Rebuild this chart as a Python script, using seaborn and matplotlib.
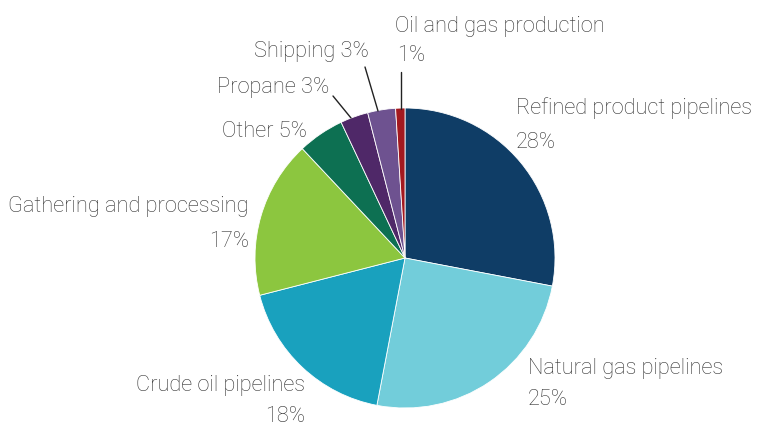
import matplotlib.pyplot as plt
import seaborn as sns

# Slice data (clockwise from 12 o'clock)
segmentos = ['Refined product pipelines', 'Natural gas pipelines', 'Crude oil pipelines',
             'Gathering and processing', 'Other', 'Propane', 'Shipping', 'Oil and gas production']
porcentajes = [28, 25, 18, 17, 5, 3, 3, 1]
colores = ['#0f3d66', '#72cdda', '#19a1be', '#8cc63f', '#0d7052', '#4f2868', '#6e5290', '#a3191f']

sns.set_style('white')
plt.rcParams['font.family'] = ['Roboto', 'DejaVu Sans']

fig = plt.figure(figsize=(7.57, 4.28), dpi=100)
ax = fig.add_axes([0, 0, 1, 1])
H = 428

ax.pie(porcentajes, colors=colores, startangle=90, counterclock=False,
       center=(405, H - 258), radius=150,
       wedgeprops={'edgecolor': 'white', 'linewidth': 0.6})
ax.set_xlim(0, 757)
ax.set_ylim(0, H)
ax.set_aspect('equal')
ax.axis('off')

gris = '#333333'
fs = 15.7


def texto(x, y, s, ha='left'):
    # y = baseline in pixels from the top
    ax.text(x, H - y, s, ha=ha, va='baseline', fontsize=fs, color=gris,
            fontweight='light')


texto(516, 114, segmentos[0]); texto(516, 148, f'{porcentajes[0]}%')
texto(528, 374, segmentos[1]); texto(528, 405, f'{porcentajes[1]}%')
texto(305, 391, segmentos[2], 'right'); texto(305, 422, f'{porcentajes[2]}%', 'right')
texto(249, 212, segmentos[3], 'right'); texto(249, 247, f'{porcentajes[3]}%', 'right')
texto(222, 137, f'{segmentos[4]} {porcentajes[4]}%')
texto(217, 93, f'{segmentos[5]} {porcentajes[5]}%')
texto(254, 57, f'{segmentos[6]} {porcentajes[6]}%')
texto(395, 32, segmentos[7]); texto(397, 61, f'{porcentajes[7]}%')

# leader lines
for (x0, y0), (x1, y1) in [((401, 72), (401, 109)),
                           ((365, 67), (378, 111)),
                           ((333, 96), (351, 118))]:
    ax.plot([x0, x1], [H - y0, H - y1], color='#222222', lw=1)

fig.savefig('out.png', dpi=100)
